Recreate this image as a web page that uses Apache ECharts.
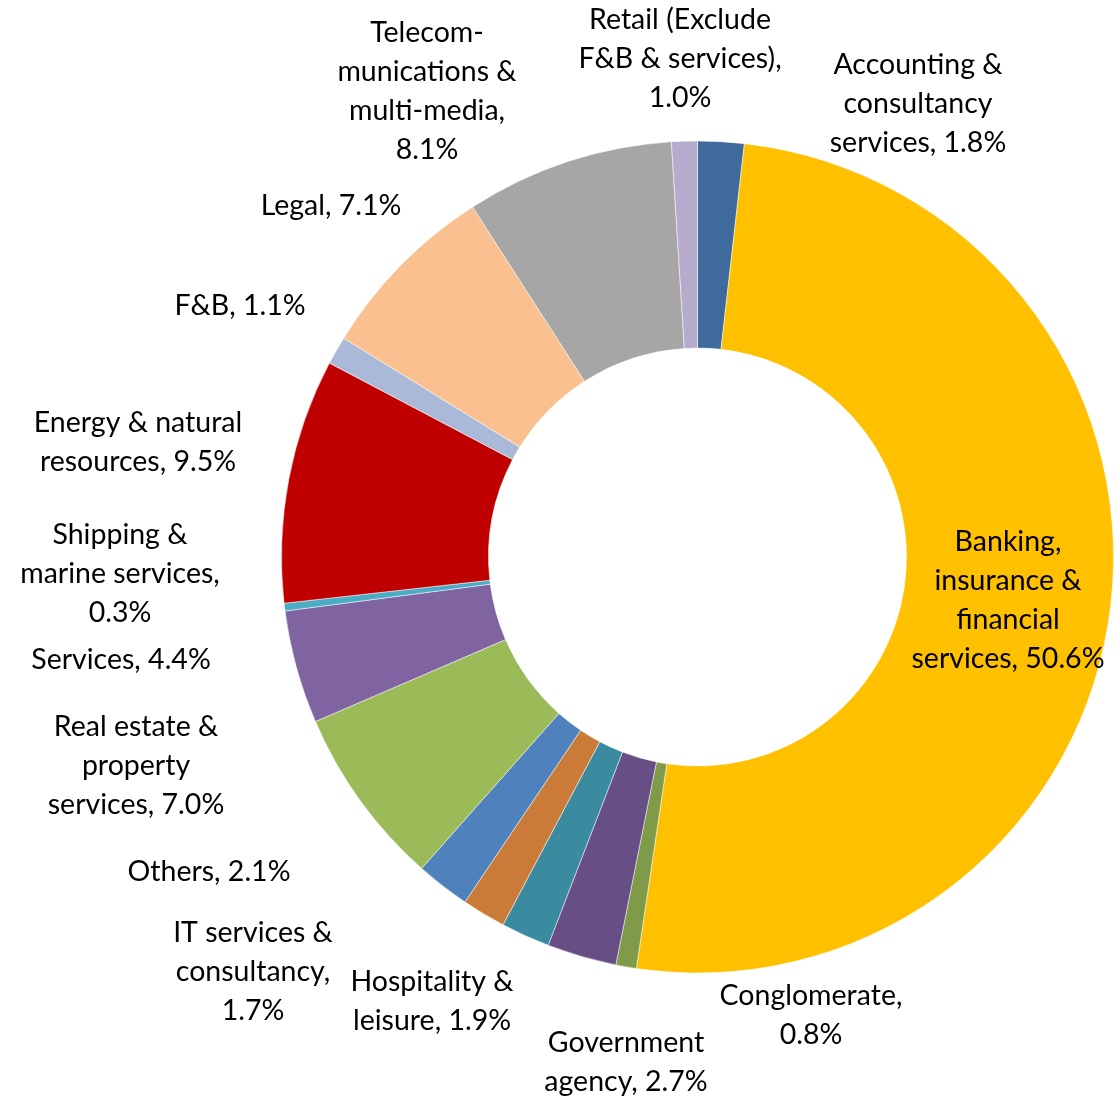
<!DOCTYPE html>
<html>
<head>
<meta charset="utf-8">
<script src="https://cdn.jsdelivr.net/npm/echarts@6/dist/echarts.min.js"></script>
<style>html,body{margin:0;padding:0;background:#fff;}#c{width:1120px;height:1098px;}</style>
</head>
<body>
<div id="c"></div>
<script>
const categories = [
  'Accounting & consultancy services',
  'Banking, insurance & financial services',
  'Conglomerate',
  'Government agency',
  'Hospitality & leisure',
  'IT services & consultancy',
  'Others',
  'Real estate & property services',
  'Services',
  'Shipping & marine services',
  'Energy & natural resources',
  'F&B',
  'Legal',
  'Telecom-munications & multi-media',
  'Retail (Exclude F&B & services)'
];
const values = [1.8, 50.6, 0.8, 2.7, 1.9, 1.7, 2.1, 7.0, 4.4, 0.3, 9.5, 1.1, 7.1, 8.1, 1.0];
// wrapped label text (value appended after)
const labelPrefix = [
  'Accounting &\nconsultancy\nservices, ',
  'Banking,\ninsurance &\nfinancial\nservices, ',
  'Conglomerate,\n',
  'Government\nagency, ',
  'Hospitality &\nleisure, ',
  'IT services &\nconsultancy,\n',
  'Others, ',
  'Real estate &\nproperty\nservices, ',
  'Services, ',
  'Shipping &\nmarine services,\n',
  'Energy & natural\nresources, ',
  'F&B, ',
  'Legal, ',
  'Telecom-\nmunications &\nmulti-media,\n',
  'Retail (Exclude\nF&B & services),\n'
];
const colors = ['#3F6A9C','#FFC000','#7F9A48','#674F86','#3A8AA0','#CB7B38','#4F81BD','#9BBB59','#8064A2','#4BACC6','#C00000','#AAB9D7','#FAC090','#A6A6A6','#B7ABCD'];
// label anchor (center of text block), layout only
const labelAnchor = [
  [918,104],[1008,600],[811,1015],[626,1062],[432,1001],[253,972],[209,872],
  [136,766],[121,660],[120,574],[138,442],[240,306],[331,206],[427,91],[680,59]
];

const chart = echarts.init(document.getElementById('c'), null, {renderer:'canvas'});
chart.setOption({
  animation:false,
  series:[{
    type:'pie',
    center:[697.5,557],
    radius:[209,416],
    startAngle:90,
    clockwise:true,
    avoidLabelOverlap:false,
    itemStyle:{borderColor:'#ffffff',borderWidth:0.5},
    label:{
      show:true,
      position:'outside',
      fontFamily:'Lato',
      fontSize:28.5,
      lineHeight:39,
      color:'#000',
      align:'center',
      formatter:p=>labelPrefix[p.dataIndex]+values[p.dataIndex].toFixed(1)+'%'
    },
    labelLine:{show:false},
    labelLayout:p=>({x:labelAnchor[p.dataIndex][0], y:labelAnchor[p.dataIndex][1], align:'center', verticalAlign:'middle'}),
    data: categories.map((n,i)=>({name:n, value:values[i], itemStyle:{color:colors[i]}}))
  }]
});
</script>
</body>
</html>
